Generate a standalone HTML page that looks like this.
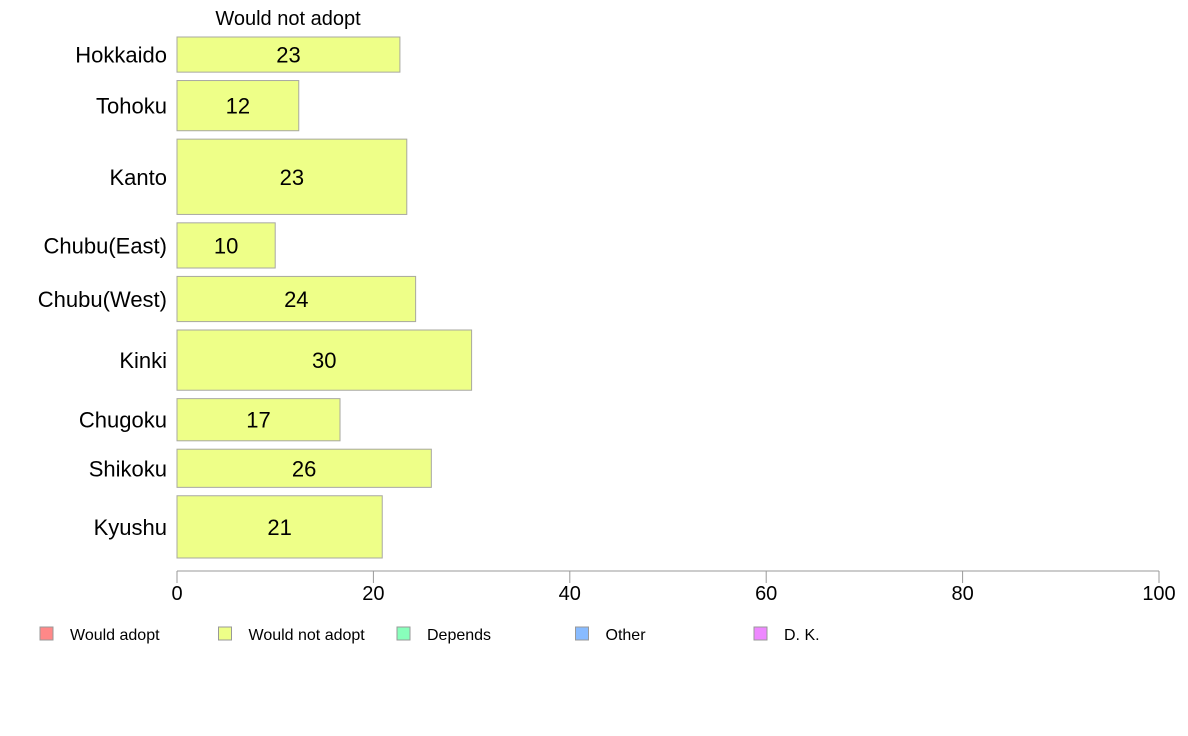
<!DOCTYPE html>
<html><head><meta charset="utf-8"><style>
body{margin:0;background:#fff}
svg{display:block;font-family:"Liberation Sans",Arial,sans-serif}
</style></head><body>
<svg id="chart" width="1188" height="736" viewBox="0 0 1188 736">
<text x="288" y="25" font-size="20" text-anchor="middle">Would not adopt</text>
<g id="bars"></g>
<g id="axis"></g>
<g id="legend"></g>
</svg>
<script>
const regions=["Hokkaido","Tohoku","Kanto","Chubu(East)","Chubu(West)","Kinki","Chugoku","Shikoku","Kyushu"];
const values=[22.7,12.4,23.4,10.0,24.3,30.0,16.6,25.9,20.9];
const weights=[35,50,75,45,45,60,42,38,62];
const ticks=[0,20,40,60,80,100];
const legendLabels=["Would adopt","Would not adopt","Depends","Other","D. K."];
const legendColors=["#ff8888","#eeff88","#88ffbb","#88bbff","#ee88ff"];
const NS="http://www.w3.org/2000/svg";
const x0=177,x1=1159,yTop=37,yBot=558,gap=8.4;
const xs=v=>x0+(v/100)*(x1-x0);
function mk(tag,attrs,parent){const e=document.createElementNS(NS,tag);for(const k in attrs)e.setAttribute(k,attrs[k]);parent.appendChild(e);return e;}
const bars=document.getElementById('bars');
const totalW=weights.reduce((a,b)=>a+b,0);
const scaleH=(yBot-yTop-gap*(weights.length-1))/totalW;
let y=yTop;
regions.forEach((r,i)=>{
  const h=weights[i]*scaleH;
  const rect=mk('rect',{x:x0,y:y,width:xs(values[i])-x0,height:h,fill:"#eeff88",stroke:"#a8a8a0","stroke-width":1},bars);
  
  
  const t=mk('text',{x:(x0+xs(values[i]))/2,y:y+h/2+8,"font-size":22,"text-anchor":"middle"},bars);
  
  
  t.textContent=Math.round(values[i]);
  const l=mk('text',{x:167,y:y+h/2+8,"font-size":22,"text-anchor":"end"},bars);
  
  
  l.textContent=r;
  y+=h+gap;
});
const axis=document.getElementById('axis');
const line=mk('line',{x1:x0,x2:x1,y1:571,y2:571,stroke:"#999","stroke-width":1},axis);


ticks.forEach(v=>{
  const tk=mk('line',{x1:xs(v),x2:xs(v),y1:571,y2:583,stroke:"#999","stroke-width":1},axis);
  
  
  const tl=mk('text',{x:xs(v),y:600,"font-size":20,"text-anchor":"middle"},axis);
  
  
  tl.textContent=v;
});
const legend=document.getElementById('legend');
legendLabels.forEach((lab,i)=>{
  const lx=40+i*178.5;
  const g=mk('g',{},legend);
  
  
  mk('rect',{x:lx,y:627,width:13,height:13,fill:legendColors[i],stroke:"#999","stroke-width":1},g);
  const t=mk('text',{x:lx+30,y:640,"font-size":16},g);
  t.textContent=lab;
});
</script>
</body></html>
